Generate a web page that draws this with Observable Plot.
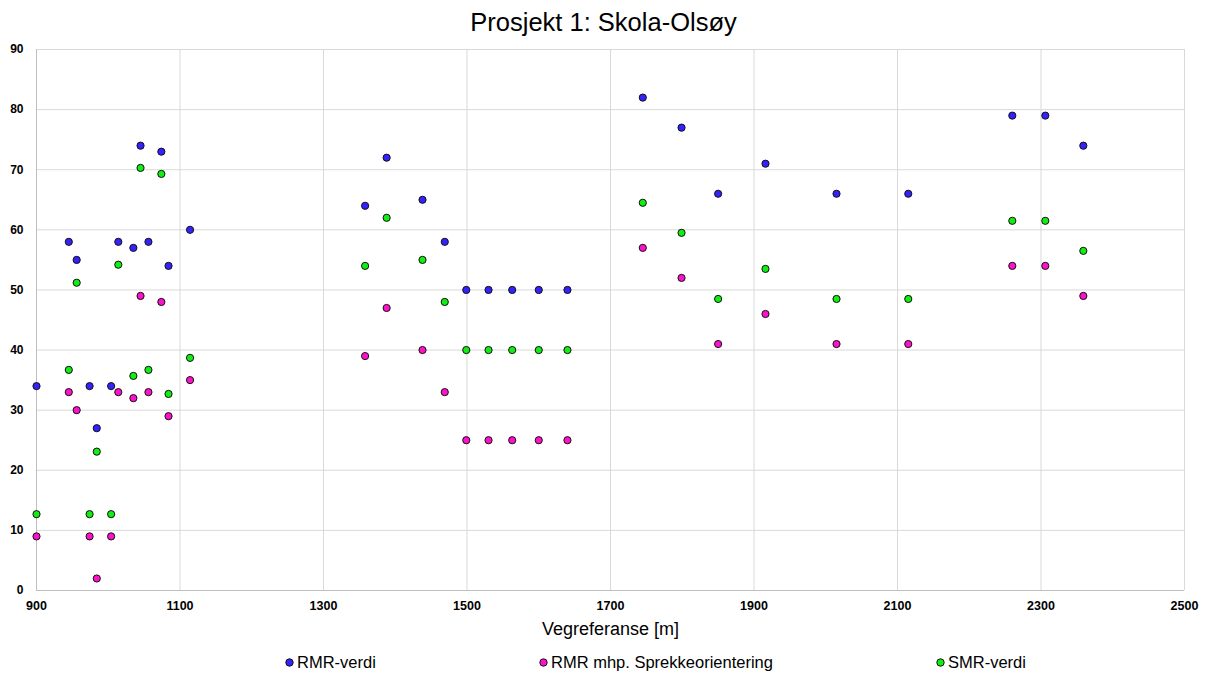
<!DOCTYPE html>
<html>
<head>
<meta charset="utf-8">
<script src="https://cdn.jsdelivr.net/npm/d3@7"></script>
<script src="https://cdn.jsdelivr.net/npm/@observablehq/plot@0.6"></script>
<style>
  html, body { margin: 0; padding: 0; background: #fff; }
  body { width: 1207px; height: 675px; position: relative; overflow: hidden; font-family: "Liberation Sans", Arial, sans-serif; }
  #title { height: 40px; line-height: 44px; text-align: center; font-size: 25.5px; color: #000; }
  #chart { height: 605px; }
  #legend { position: absolute; top: 650px; left: 0; width: 1207px; height: 25px; font-size: 16.5px; color: #000; }
  .item { position: absolute; top: 0; display: flex; align-items: center; height: 24px; white-space: nowrap; }
  .item svg { margin-right: 3px; }
</style>
</head>
<body>
<div id="title">Prosjekt 1: Skola-Olsøy</div>
<div id="chart"></div>
<div id="legend"></div>
<script>
const stations = [900, 945, 956, 974, 984, 1004, 1014, 1035, 1045, 1056, 1074, 1084, 1114,
  1358, 1388, 1438, 1469, 1499, 1530, 1563, 1600, 1640,
  1745, 1799, 1850, 1916, 2015, 2115, 2260, 2306, 2359];
const rmrVerdi = [34, 58, 55, 34, 27, 34, 58, 57, 74, 58, 73, 54, 60,
  64, 72, 65, 58, 50, 50, 50, 50, 50,
  82, 77, 66, 71, 66, 66, 79, 79, 74];
const rmrOrientering = [9, 33, 30, 9, 2, 9, 33, 32, 49, 33, 48, 29, 35,
  39, 47, 40, 33, 25, 25, 25, 25, 25,
  57, 52, 41, 46, 41, 41, 54, 54, 49];
const smrVerdi = [12.7, 36.7, 51.2, 12.7, 23.1, 12.7, 54.2, 35.7, 70.3, 36.7, 69.3, 32.7, 38.7,
  54, 62, 55, 48, 40, 40, 40, 40, 40,
  64.5, 59.5, 48.5, 53.5, 48.5, 48.5, 61.5, 61.5, 56.5];
const seriesNames = ["RMR-verdi", "RMR mhp. Sprekkeorientering", "SMR-verdi"];
const seriesColors = ["#3322ff", "#ff11cc", "#11ee11"];
const xTicks = [900, 1100, 1300, 1500, 1700, 1900, 2100, 2300, 2500];
const yTicks = [0, 10, 20, 30, 40, 50, 60, 70, 80, 90];

const seriesValues = [rmrVerdi, rmrOrientering, smrVerdi];
const data = [];
seriesValues.forEach((vals, si) => {
  vals.forEach((v, i) => data.push({ x: stations[i], y: v, s: seriesNames[si] }));
});

const plot = Plot.plot({
  width: 1207,
  height: 605,
  marginLeft: 36,
  marginRight: 23,
  marginTop: 9,
  marginBottom: 55,
  style: { fontFamily: "Liberation Sans, Arial, sans-serif", background: "#fff" },
  x: { domain: [900, 2500], ticks: xTicks, label: null },
  y: { domain: [0, 90], ticks: yTicks, label: null },
  color: { domain: seriesNames, range: seriesColors },
  marks: [
    Plot.gridX(xTicks, { stroke: "#d9d9d9", strokeOpacity: 1 }),
    Plot.gridY(yTicks, { stroke: "#d9d9d9", strokeOpacity: 1 }),
    Plot.ruleX([900], { stroke: "#bfbfbf" }),
    Plot.ruleY([0], { stroke: "#bfbfbf" }),
    Plot.axisX(xTicks, { tickSize: 0, tickPadding: 11, fontSize: 12.5, fontWeight: "bold", tickFormat: d => String(d), label: null }),
    Plot.axisY(yTicks, { tickSize: 0, tickPadding: 13, fontSize: 12, fontWeight: "bold", tickFormat: d => String(d), label: null }),
    Plot.text(["Vegreferanse [m]"], { frameAnchor: "bottom", dy: 39, fontSize: 18, fill: "#000", lineAnchor: "middle" }),
    Plot.dot(data, { x: "x", y: "y", fill: "s", stroke: "#111", strokeWidth: 1, r: 3.6 })
  ]
});
document.getElementById("chart").appendChild(plot);

const legendLeft = [285, 539, 936];
const legend = document.getElementById("legend");
seriesNames.forEach((name, i) => {
  const item = document.createElement("div");
  item.className = "item";
  item.style.left = legendLeft[i] + "px";
  item.innerHTML = `<svg width="9" height="9"><circle cx="4.5" cy="4.5" r="3.7" fill="${seriesColors[i]}" stroke="#111" stroke-width="1"/></svg><span>${name}</span>`;
  legend.appendChild(item);
});
</script>
</body>
</html>
